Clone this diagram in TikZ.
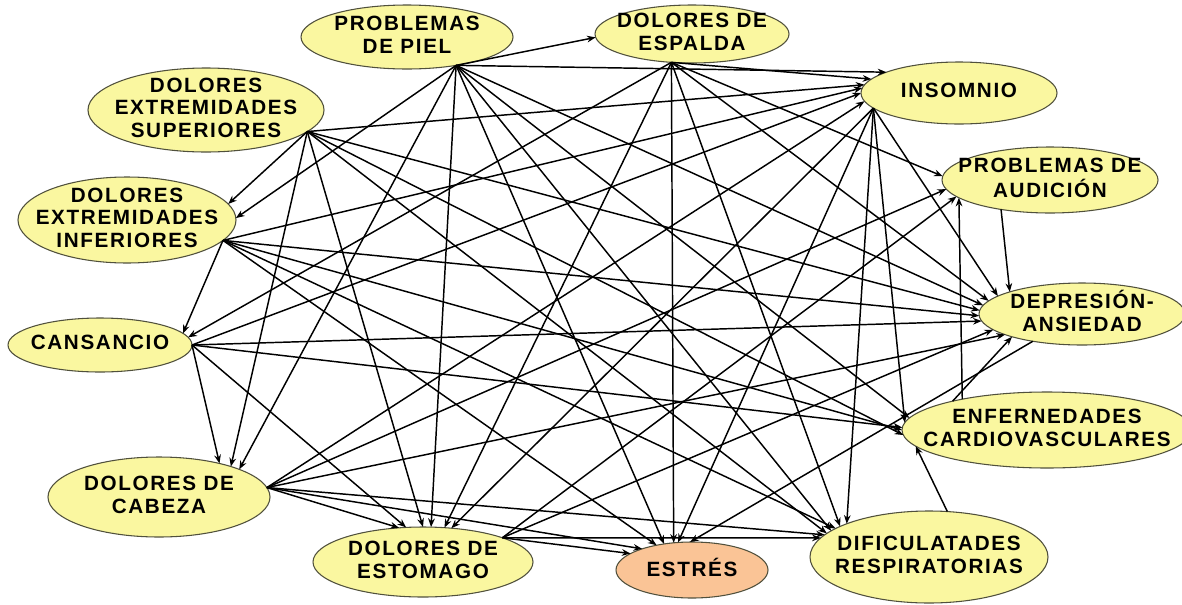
\documentclass[tikz,border=0pt]{standalone}
\usepackage{fontspec}
\newfontfamily\lab{Liberation Sans}[LetterSpace=8]
\usetikzlibrary{shapes.geometric,arrows.meta}
\definecolor{nodeyellow}{RGB}{250,247,160}
\definecolor{nodepeach}{RGB}{250,196,150}
\definecolor{nodeline}{RGB}{80,80,60}
\newcommand{\lbl}[1]{\smash{\makebox[0pt]{\raisebox{-3.9pt}{\begin{tabular}{@{}c@{}}#1\end{tabular}}}}}
\begin{document}
\begin{tikzpicture}[x=0.75pt,y=-0.75pt,
  bub/.style={ellipse,draw=nodeline,line width=0.8pt,fill=nodeyellow,inner sep=0pt,outer sep=0pt,
    font=\lab\bfseries\fontsize{15.5}{17}\selectfont},
  edge/.style={line width=1.1pt,-{Stealth[length=6.5pt,width=5pt]}}]
\path[fill=white] (0,0) rectangle (1182,604);
\useasboundingbox (0,0) rectangle (1182,604);

\node[bub,minimum width=159pt,minimum height=48pt] (piel) at (407,37) {\lbl{PROBLEMAS\\DE PIEL}};
\node[bub,minimum width=145.5pt,minimum height=43.5pt] (esp) at (692,34) {\lbl{DOLORES DE\\ESPALDA}};
\node[bub,minimum width=147pt,minimum height=46.5pt] (ins) at (959,93) {\lbl{INSOMNIO}};
\node[bub,minimum width=177pt,minimum height=63pt] (sup) at (206,110) {\lbl{DOLORES\\EXTREMIDADES\\SUPERIORES}};
\node[bub,minimum width=163.5pt,minimum height=64.5pt] (inf) at (127,220) {\lbl{DOLORES\\EXTREMIDADES\\INFERIORES}};
\node[bub,minimum width=162pt,minimum height=49.5pt] (aud) at (1050,180) {\lbl{PROBLEMAS DE\\AUDICIÓN}};
\node[bub,minimum width=154.5pt,minimum height=46.5pt] (dep) at (1082,314) {\lbl{DEPRESIÓN-\\ANSIEDAD}};
\node[bub,minimum width=138pt,minimum height=40.5pt] (can) at (100,345) {\lbl{CANSANCIO}};
\node[bub,minimum width=217.5pt,minimum height=57pt] (enf) at (1047,430) {\lbl{ENFERNEDADES\\CARDIOVASCULARES}};
\node[bub,minimum width=166.5pt,minimum height=60pt] (cab) at (159,497) {\lbl{DOLORES DE\\CABEZA}};
\node[bub,minimum width=165pt,minimum height=52.5pt] (est) at (423,562) {\lbl{DOLORES DE\\ESTOMAGO}};
\node[bub,fill=nodepeach,minimum width=114pt,minimum height=42pt] (str) at (692,570) {\lbl{ESTRÉS}};
\node[bub,minimum width=178.5pt,minimum height=69pt] (res) at (929,557) {\lbl{DIFICULATADES\\RESPIRATORIAS}};

\foreach \s/\t in {
  piel.-30/esp.182, piel.-30/ins.164, piel.-30/inf.1, piel.-30/cab.19,
  piel.-30/est.77, piel.-30/str.137, piel.-30/dep.175, piel.-30/res.165,
  piel.-30/enf.175,
  esp.234/ins.171, esp.234/aud.178, esp.234/dep.172, esp.234/res.161,
  esp.234/str.124, esp.234/est.58, esp.234/can.5,
  sup.-12/ins.175, sup.-12/inf.9, sup.-12/cab.23, sup.-12/est.90,
  sup.-12/dep.178, sup.-12/enf.182, sup.-12/res.167,
  inf.-12/can.8, inf.-12/ins.177, inf.-12/dep.181, inf.-12/enf.180,
  inf.-12/res.163, inf.-12/str.145,
  can.0/cab.29, can.0/est.116, can.0/ins.180, can.0/dep.184, can.0/enf.179,
  cab.5/est.125, cab.5/str.157, cab.5/res.168, cab.5/dep.195,
  cab.5/aud.185, cab.5/ins.185,
  est.17/aud.190, est.17/dep.190, est.17/str.165, est.17/res.170,
  ins.190/est.50, ins.190/str.117, ins.190/res.158, ins.190/enf.177,
  ins.190/dep.168,
  aud.211/dep.163, dep.209/str.94, enf.163/dep.198, enf.160/aud.191,
  res.68/enf.187}
  \draw[edge] (\s) -- (\t);
\end{tikzpicture}
\end{document}
